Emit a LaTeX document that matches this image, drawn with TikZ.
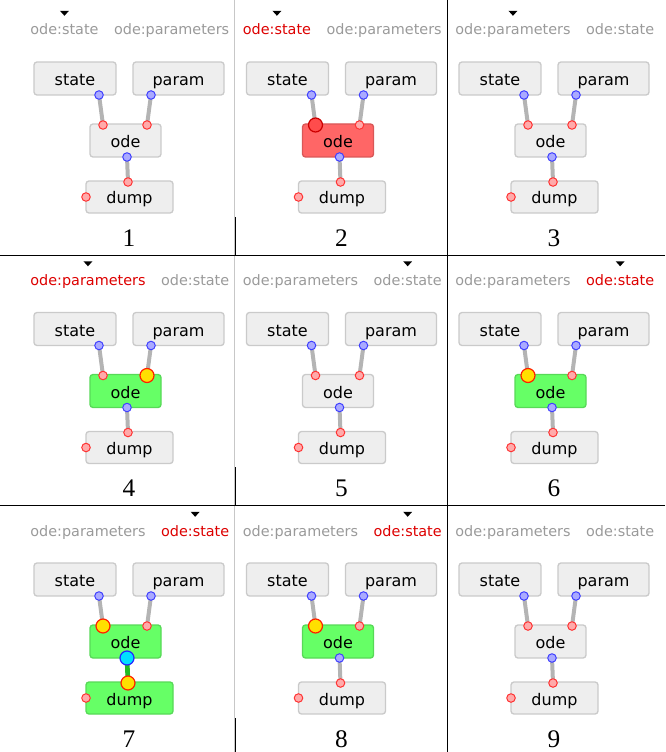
\documentclass[tikz,border=0pt]{standalone}
\usepackage{fontspec}
\setmainfont{Liberation Serif}
\setsansfont{DejaVu Sans}
\usetikzlibrary{positioning}

\definecolor{boxgray}{HTML}{EEEEEE}
\definecolor{boxred}{HTML}{FF6666}
\definecolor{boxgreen}{HTML}{66FF66}
\definecolor{labelgray}{HTML}{9A9A9A}
\definecolor{labelred}{HTML}{DD0000}
\definecolor{portblue}{HTML}{AAAAFF}
\definecolor{portred}{HTML}{FFAAAA}
\definecolor{wiregray}{HTML}{B4B4B4}
\definecolor{wiregreen}{HTML}{22BB22}
\definecolor{hotyellow}{HTML}{FFE000}
\definecolor{hotcyan}{HTML}{00E0FF}

\tikzset{
  block/.style={rectangle, rounded corners=2.25pt, line width=1pt,
    font=\sffamily\fontsize{12}{12}\selectfont,
    text height=10.5pt, text depth=0pt, minimum height=24.75pt, inner sep=0pt},
  outport/.style={circle, draw=blue!75, fill=portblue, line width=0.75pt,
    minimum size=6.4pt, inner sep=0pt},
  inport/.style={circle, draw=red!80, fill=portred, line width=0.75pt,
    minimum size=6.4pt, inner sep=0pt},
  bigport/.style={circle, line width=0.9pt, minimum size=10.5pt, inner sep=0pt},
  fire/.style={bigport, draw=red!75!orange, fill=hotyellow},
  wire/.style={wiregray, line width=3pt},
  tag/.style={font=\sffamily\fontsize{10.8}{10.8}\selectfont, inner sep=0pt},
  num/.style={font=\fontsize{19}{19}\selectfont, inner sep=0pt},
}

\begin{document}
\begin{tikzpicture}[x=0.75pt, y=-0.75pt]
  \useasboundingbox (0,0) rectangle (665,752);

  % table rules
  \draw[black!22, line width=0.75pt] (234,0) -- (234,752);
  \draw[line width=0.75pt] (0,255) -- (665,255) (0,505) -- (665,505)
    (447,0) -- (447,752);
  \draw[line width=0.75pt] (235.5,217) -- (235.5,255)
    (235.5,467) -- (235.5,505) (235.5,718) -- (235.5,752);

  % one panel per step
  \foreach \n/\c/\r/\la/\lb/\ca/\cb/\mk/\of/\df in {
      1/0/0/state/parameters/labelgray/labelgray/1/boxgray/boxgray,
      2/1/0/state/parameters/labelred/labelgray/1/boxred/boxgray,
      3/2/0/parameters/state/labelgray/labelgray/1/boxgray/boxgray,
      4/0/1/parameters/state/labelred/labelgray/1/boxgreen/boxgray,
      5/1/1/parameters/state/labelgray/labelgray/2/boxgray/boxgray,
      6/2/1/parameters/state/labelgray/labelred/2/boxgreen/boxgray,
      7/0/2/parameters/state/labelgray/labelred/2/boxgreen/boxgreen,
      8/1/2/parameters/state/labelgray/labelred/2/boxgreen/boxgray,
      9/2/2/parameters/state/labelgray/labelgray/0/boxgray/boxgray}
  {
    \begin{scope}[shift={(\c*212.5,\r*250.5)}]
      % tabs with the current one marked
      \node[tag, text=\cb, anchor=base east] (\n-b) at (229.5,35) {ode:\lb};
      \node[tag, text=\ca, base left=11.25pt of \n-b] (\n-a) {ode:\la};
      \ifcase\mk\or
        \fill ([yshift=6pt]\n-a.north) -- ++(-4.5,-5) -- ++(9,0) -- cycle;
      \or
        \fill ([yshift=6pt]\n-b.north) -- ++(-4.5,-5) -- ++(9,0) -- cycle;
      \fi

      % blocks
      \node[block, fill=boxgray, draw=boxgray!85!black, minimum width=61.5pt]
        (\n-state) at (75,78.5) {state};
      \node[block, fill=boxgray, draw=boxgray!85!black, minimum width=68.25pt]
        (\n-param) at (178.5,78.5) {param};
      \node[block, fill=\of, draw=\of!85!black, minimum width=53.25pt]
        (\n-ode) at (125.5,140.5) {ode};
      \node[block, fill=\df, draw=\df!85!black, minimum width=65.25pt,
        minimum height=24pt] (\n-dump) at (129.5,197) {dump};

      % ports
      \coordinate (\n-st-out) at (99,95);
      \coordinate (\n-pa-out) at (151,95);
      \coordinate (\n-ode-s) at (103,125);
      \coordinate (\n-ode-p) at (147,125);
      \coordinate (\n-ode-out) at (127,157);
      \coordinate (\n-dump-in) at (128,182);
      \coordinate (\n-dump-x) at (86,197);

      \draw[wire] (\n-st-out) -- (\n-ode-s)
                  (\n-pa-out) -- (\n-ode-p)
                  (\n-ode-out) -- (\n-dump-in);
      \foreach \p in {st-out,pa-out,ode-out}
        \node[outport] (\n-\p-dot) at (\n-\p) {};
      \foreach \p in {ode-s,ode-p,dump-in,dump-x}
        \node[inport] (\n-\p-dot) at (\n-\p) {};

      \node[num] (\n-num) at (129,238) {\n};
    \end{scope}
  }

  % highlighted inputs
  \node[bigport, draw=red!80!black, fill=red!70] (2-ode-s-hot) at (2-ode-s) {};
  \node[fire] (4-ode-p-hot) at (4-ode-p) {};
  \foreach \n in {6,7,8}
    \node[fire] (\n-ode-s-hot) at (\n-ode-s) {};
  \draw[wire, wiregreen, line width=3.5pt] (7-ode-out) -- (7-dump-in);
  \node[bigport, draw=blue!85, fill=hotcyan] (7-ode-out-hot) at (7-ode-out) {};
  \node[fire] (7-dump-in-hot) at (7-dump-in) {};
\end{tikzpicture}
\end{document}
